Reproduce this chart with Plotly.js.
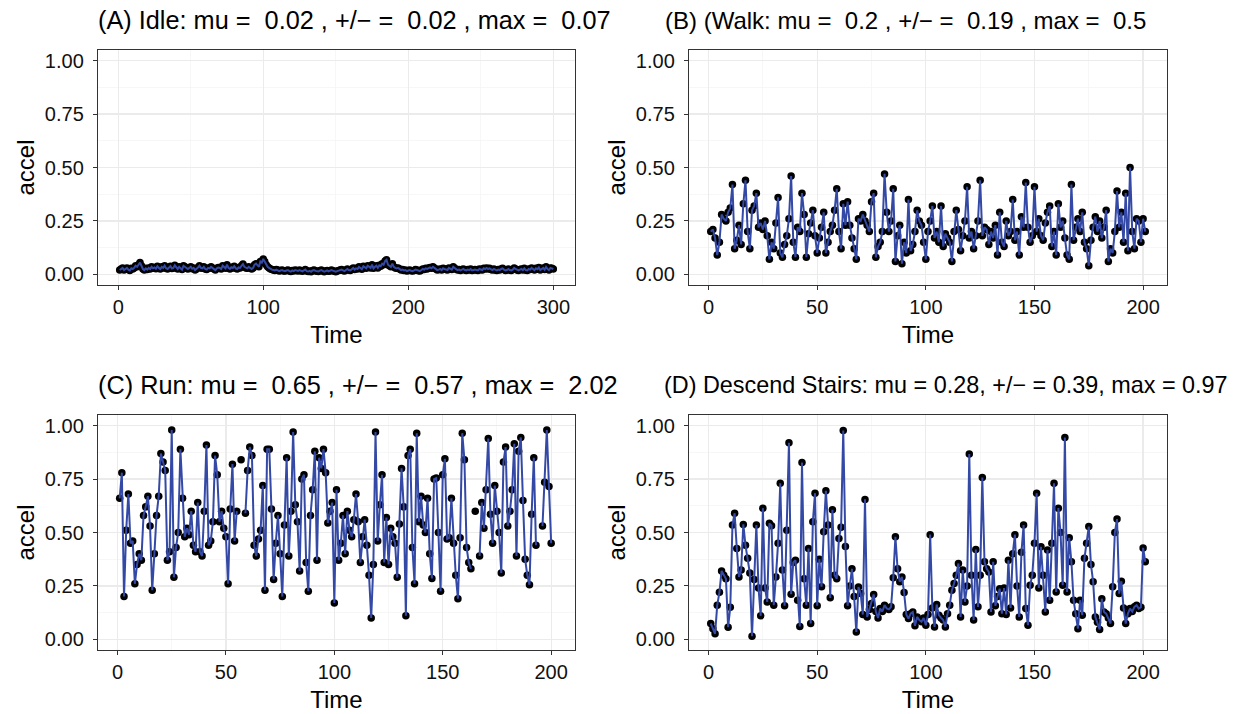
<!DOCTYPE html>
<html>
<head>
<meta charset="utf-8">
<script src="https://cdn.plot.ly/plotly-3.0.1.min.js"></script>
<style>html,body{margin:0;padding:0;background:#fff;}#chart{width:1241px;height:714px;}</style>
</head>
<body>
<div id="chart"></div>
<script>
// ---- Data ----
const titleA = "(A) Idle: mu = \u00a00.02 , +/\u2212 = \u00a00.02 , max = \u00a00.07";
const titleB = "(B) (Walk: mu = \u00a00.2 , +/\u2212 = \u00a00.19 , max = \u00a00.5";
const titleC = "(C) Run: mu = \u00a00.65 , +/\u2212 = \u00a00.57 , max = \u00a02.02";
const titleD = "(D) Descend Stairs: mu = 0.28, +/\u2212 = 0.39, max = 0.97";

const xLabel = "Time";
const yLabel = "accel";

const yTickVals = [0, 0.25, 0.5, 0.75, 1.0];
const yTickText = ["0.00", "0.25", "0.50", "0.75", "1.00"];
const xTicksIdle = [0, 100, 200, 300];
const xTicksOther = [0, 50, 100, 150, 200];

const idle = [
0.02,0.025,0.03,0.02,0.025,0.03,0.022,0.018,0.028,0.025,0.03,0.04,0.035,0.045,0.055,0.04,0.025,0.02,0.028,0.022,
0.03,0.025,0.035,0.028,0.032,0.026,0.038,0.03,0.025,0.035,0.03,0.04,0.028,0.025,0.033,0.038,0.027,0.03,0.042,0.03,
0.025,0.035,0.03,0.022,0.04,0.035,0.028,0.025,0.03,0.036,0.026,0.03,0.02,0.025,0.032,0.04,0.03,0.028,0.035,0.025,
0.022,0.03,0.028,0.035,0.03,0.025,0.02,0.028,0.032,0.03,0.025,0.04,0.035,0.028,0.045,0.03,0.025,0.033,0.03,0.038,
0.028,0.025,0.032,0.03,0.04,0.048,0.035,0.03,0.028,0.035,0.03,0.025,0.03,0.045,0.05,0.04,0.035,0.06,0.055,0.072,
0.06,0.045,0.035,0.03,0.025,0.022,0.02,0.018,0.022,0.02,0.015,0.018,0.02,0.016,0.015,0.018,0.02,0.015,0.013,0.018,
0.015,0.02,0.018,0.016,0.02,0.017,0.014,0.018,0.022,0.015,0.013,0.016,0.012,0.018,0.02,0.016,0.015,0.013,0.017,0.02,
0.016,0.012,0.015,0.018,0.014,0.016,0.02,0.017,0.014,0.012,0.015,0.018,0.02,0.022,0.018,0.015,0.02,0.025,0.02,0.018,
0.024,0.03,0.022,0.028,0.025,0.035,0.03,0.024,0.038,0.032,0.028,0.04,0.035,0.03,0.045,0.028,0.035,0.04,0.03,0.042,
0.038,0.05,0.045,0.062,0.068,0.045,0.04,0.035,0.05,0.035,0.03,0.028,0.03,0.025,0.02,0.022,0.018,0.02,0.015,0.018,
0.02,0.017,0.015,0.018,0.022,0.02,0.017,0.015,0.02,0.025,0.022,0.028,0.025,0.03,0.032,0.028,0.035,0.03,0.025,0.02,
0.022,0.025,0.02,0.028,0.025,0.022,0.02,0.03,0.025,0.022,0.035,0.028,0.024,0.02,0.022,0.018,0.022,0.025,0.02,0.018,
0.022,0.02,0.025,0.018,0.02,0.022,0.02,0.018,0.025,0.022,0.02,0.028,0.025,0.03,0.025,0.028,0.022,0.02,0.025,0.02,
0.018,0.022,0.02,0.025,0.028,0.022,0.018,0.02,0.025,0.02,0.018,0.022,0.03,0.025,0.02,0.018,0.022,0.025,0.02,0.028,
0.02,0.018,0.025,0.022,0.03,0.025,0.02,0.028,0.024,0.032,0.02,0.025,0.03,0.022,0.035,0.025,0.02,0.03,0.028,0.025
];

const walk = [
0.20,0.21,0.17,0.09,0.15,0.28,0.26,0.25,0.29,0.31,
0.42,0.12,0.16,0.23,0.14,0.33,0.44,0.20,0.12,0.30,
0.32,0.38,0.22,0.24,0.21,0.25,0.18,0.07,0.15,0.12,
0.24,0.36,0.10,0.08,0.14,0.18,0.26,0.46,0.15,0.08,
0.22,0.20,0.38,0.28,0.08,0.19,0.24,0.30,0.18,0.10,
0.17,0.22,0.29,0.10,0.15,0.20,0.23,0.30,0.40,0.20,
0.12,0.33,0.23,0.34,0.23,0.17,0.12,0.07,0.26,0.25,
0.28,0.25,0.23,0.20,0.34,0.38,0.08,0.13,0.15,0.20,
0.47,0.29,0.20,0.25,0.40,0.06,0.18,0.23,0.05,0.15,
0.10,0.35,0.11,0.14,0.20,0.30,0.25,0.23,0.15,0.07,
0.20,0.25,0.32,0.17,0.20,0.15,0.32,0.13,0.19,0.17,
0.15,0.06,0.20,0.30,0.21,0.11,0.18,0.25,0.41,0.17,
0.20,0.12,0.18,0.25,0.44,0.18,0.22,0.21,0.14,0.20,
0.17,0.23,0.09,0.29,0.15,0.13,0.25,0.18,0.20,0.35,
0.16,0.20,0.09,0.27,0.22,0.43,0.22,0.15,0.18,0.41,
0.20,0.26,0.18,0.16,0.24,0.29,0.32,0.13,0.20,0.09,
0.33,0.22,0.25,0.17,0.09,0.07,0.42,0.16,0.22,0.26,
0.20,0.29,0.15,0.12,0.04,0.16,0.22,0.27,0.20,0.25,
0.17,0.22,0.30,0.06,0.12,0.10,0.20,0.39,0.22,0.29,
0.15,0.38,0.11,0.50,0.20,0.12,0.26,0.25,0.15,0.26,
0.20
];

// values above 1 fall outside the y-limits and are left empty (gaps in the line)
const run = [
0.66,0.78,0.20,0.51,0.68,0.45,0.46,0.26,0.35,0.40,
0.37,0.58,0.62,0.67,0.53,0.23,0.40,0.58,0.67,0.87,
0.83,0.79,0.37,0.41,0.98,0.29,0.43,0.50,0.89,0.66,
0.48,0.52,0.49,0.60,0.44,0.41,0.64,0.41,0.39,0.60,
0.91,0.44,0.46,0.55,0.86,0.77,0.55,0.60,0.52,0.48,
0.26,0.61,0.82,0.46,0.60,null,0.84,null,0.59,0.79,
0.90,0.86,0.44,0.39,0.47,0.51,0.72,0.23,0.89,0.89,
0.61,0.28,0.45,0.58,0.40,0.20,0.535,0.85,0.39,0.60,
0.97,0.63,0.55,0.32,0.75,0.77,0.36,0.225,0.58,0.70,
0.88,0.37,0.85,0.80,0.89,0.78,0.545,0.60,0.64,0.17,
0.70,0.37,0.45,0.58,0.40,0.60,0.51,0.48,0.56,0.68,
0.55,0.36,0.48,0.56,0.44,0.30,0.10,0.35,0.97,0.46,
0.63,0.77,0.36,0.57,0.35,0.52,0.48,0.45,0.29,0.54,
0.80,0.62,0.11,0.86,0.89,0.43,0.26,0.965,0.55,0.67,
0.535,0.50,0.66,0.40,0.285,0.75,0.755,0.50,0.225,0.77,
0.845,0.47,0.475,0.66,0.45,0.30,0.19,0.475,0.965,0.84,
0.43,0.36,0.33,null,0.60,null,0.39,0.64,0.52,0.70,
0.94,0.585,0.45,0.72,0.60,0.50,0.31,0.83,0.90,0.53,
0.60,0.70,0.915,0.39,0.88,0.945,0.65,0.375,0.30,0.255,
0.585,0.85,0.44,null,null,0.53,0.735,0.98,0.715,0.45
];

const stairs = [
0.074,0.05,0.026,0.16,0.22,0.32,0.30,0.283,0.057,0.15,
0.535,0.59,0.425,0.292,0.324,0.538,0.44,0.38,0.31,0.014,
0.28,0.535,0.24,0.11,0.614,0.24,0.175,0.543,0.532,0.16,
0.292,0.45,0.73,0.324,0.157,0.51,0.92,0.211,0.36,0.37,
0.183,0.06,0.828,0.284,0.16,0.425,0.074,0.55,0.684,0.157,
0.375,0.246,0.504,0.695,0.535,0.194,0.606,0.30,0.284,0.472,
0.525,0.977,0.434,0.157,0.25,0.33,0.20,0.034,0.245,0.215,
0.116,0.655,0.105,0.14,0.168,0.21,0.13,0.10,0.144,0.13,
0.16,0.144,0.14,0.152,0.288,0.48,0.33,0.27,0.292,0.219,
0.116,0.097,0.12,0.128,0.063,0.105,0.09,0.082,0.10,0.066,
0.116,0.49,0.147,0.058,0.163,0.113,0.10,0.09,0.058,0.12,
0.16,0.23,0.261,0.30,0.355,0.105,0.324,0.175,0.25,0.867,
0.30,0.09,0.42,0.152,0.30,0.757,0.363,0.33,0.315,0.128,
0.363,0.157,0.20,0.237,0.12,0.24,0.116,0.37,0.147,0.40,
0.49,0.25,0.105,0.407,0.535,0.144,0.066,0.253,0.30,0.45,
0.684,0.24,0.433,0.30,0.128,0.418,0.183,0.45,0.73,0.222,
0.614,0.50,0.253,0.945,0.222,0.475,0.363,0.183,0.12,0.05,
0.183,0.113,0.379,0.45,0.528,0.35,0.27,0.105,0.08,0.046,
0.19,0.128,0.12,0.10,0.074,0.246,0.50,0.563,0.214,0.272,
0.147,0.074,0.12,0.144,0.13,0.152,0.16,0.144,0.15,0.428,
0.363
];

// ---- Styling ----
const LINE = '#3349A5';
const FONT = 'Liberation Sans, Arial, Helvetica, sans-serif';
const TICK_SIZE = 20, AXT_SIZE = 24;

function idx(arr) { return arr.map((_, i) => i + 1); }

function series(arr, xa, ya) {
  const t = idx(arr);
  return [
    {x: t, y: arr, xaxis: xa, yaxis: ya, type: 'scatter', mode: 'markers',
     marker: {color: '#000', size: 7.5}, hoverinfo: 'skip'},
    {x: t, y: arr, xaxis: xa, yaxis: ya, type: 'scatter', mode: 'lines',
     line: {color: LINE, width: 2}, connectgaps: false, hoverinfo: 'skip'}
  ];
}

function xAxis(domain, anchor, n, ticks, minorStep) {
  const span = (n - 1) * 0.05;
  return {
    domain: domain, anchor: anchor, range: [1 - span, n + span],
    tickmode: 'array', tickvals: ticks, ticktext: ticks.map(String),
    ticks: 'outside', ticklen: 4, tickwidth: 1, tickcolor: '#333',
    tickfont: {size: TICK_SIZE, color: '#111', family: FONT},
    showgrid: true, gridcolor: '#EBEBEB', gridwidth: 1.2,
    minor: {dtick: minorStep, tick0: minorStep, showgrid: true, gridcolor: '#F2F2F2', gridwidth: 0.6, ticks: ''},
    showline: true, linecolor: '#333', linewidth: 1.2, mirror: true, zeroline: false,
    title: {text: xLabel, font: {size: AXT_SIZE, color: '#000', family: FONT}, standoff: 9},
    fixedrange: true
  };
}

function yAxis(domain, anchor) {
  return {
    domain: domain, anchor: anchor, range: [-0.05, 1.05],
    tickmode: 'array', tickvals: yTickVals, ticktext: yTickText,
    ticks: 'outside', ticklen: 4, tickwidth: 1, tickcolor: '#333',
    ticklabelstandoff: 5,
    tickfont: {size: TICK_SIZE, color: '#111', family: FONT},
    showgrid: true, gridcolor: '#EBEBEB', gridwidth: 1.2,
    minor: {dtick: 0.125, tick0: 0.125, showgrid: true, gridcolor: '#F2F2F2', gridwidth: 0.6, ticks: ''},
    showline: true, linecolor: '#333', linewidth: 1.2, mirror: true, zeroline: false,
    title: {text: yLabel, font: {size: AXT_SIZE, color: '#000', family: FONT}, standoff: 3},
    fixedrange: true
  };
}

const W = 1241, H = 714;
const dxLeft = [98 / W, 575 / W];
const dxRight = [689 / W, 1167 / W];
const dyTop = [1 - 285 / H, 1 - 50 / H];
const dyBot = [1 - 650 / H, 1 - 415 / H];

const data = [].concat(
  series(idle, 'x', 'y'),
  series(walk, 'x2', 'y2'),
  series(run, 'x3', 'y3'),
  series(stairs, 'x4', 'y4')
);

function ttl(text, xpx, ypx, size) {
  return {text: text, x: xpx / W, y: 1 - ypx / H, xref: 'paper', yref: 'paper',
          xanchor: 'left', yanchor: 'middle', align: 'left', showarrow: false,
          font: {size: size, color: '#000', family: FONT}};
}

const layout = {
  width: W, height: H,
  margin: {l: 0, r: 0, t: 0, b: 0},
  paper_bgcolor: '#fff', plot_bgcolor: '#fff',
  showlegend: false,
  font: {family: FONT, color: '#000'},
  xaxis: xAxis(dxLeft, 'y', idle.length, xTicksIdle, 50),
  yaxis: yAxis(dyTop, 'x'),
  xaxis2: xAxis(dxRight, 'y2', 201, xTicksOther, 25),
  yaxis2: yAxis(dyTop, 'x2'),
  xaxis3: xAxis(dxLeft, 'y3', 201, xTicksOther, 25),
  yaxis3: yAxis(dyBot, 'x3'),
  xaxis4: xAxis(dxRight, 'y4', 201, xTicksOther, 25),
  yaxis4: yAxis(dyBot, 'x4'),
  annotations: [
    ttl(titleA, 96, 20, 25.3),
    ttl(titleB, 663, 20, 24),
    ttl(titleC, 96, 385, 25.3),
    ttl(titleD, 662, 385, 23.4)
  ]
};

Plotly.newPlot('chart', data, layout, {staticPlot: true, displayModeBar: false});
</script>
</body>
</html>
